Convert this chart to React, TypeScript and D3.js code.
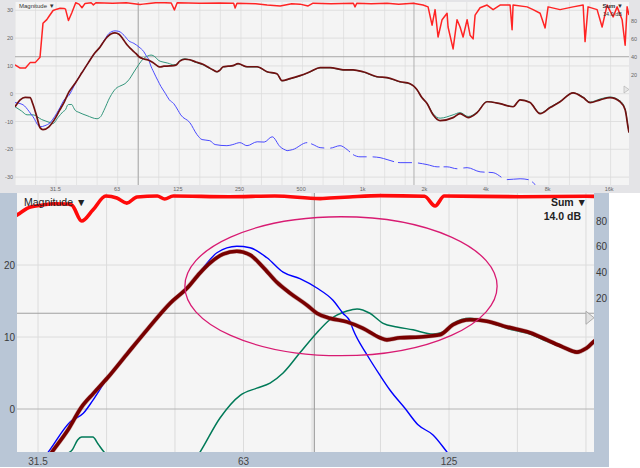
import React from "react";
import * as d3 from "d3";

type Pt = [number, number];

// Sum (maroon) response, dB
const sumCurve: Pt[] = [
  [20, -4.7], [21.2, -2.2], [22.4, -1.3], [23.7, -1.4], [24.4, -3.5], [25.5, -8.0], [26.5, -12.2], [27.4, -12.9],
  [29.3, -11.9], [31.0, -9.6], [33.0, -6.0], [34.8, -3.0], [36.5, 0.3], [38.0, 2.2], [39.8, 4.3], [42.5, 7.6],
  [45.5, 11.0], [49.2, 14.7], [52.1, 16.8], [54.4, 18.9], [56.3, 20.3], [58.8, 21.5], [61.6, 21.9], [64.4, 21.4],
  [67.3, 19.7], [70.5, 17.6], [73.7, 16.1], [78.1, 14.4], [80.7, 13.3], [84.3, 12.6], [89.3, 12.1], [94.3, 11.2],
  [99.8, 9.9], [102.2, 9.6], [106.8, 9.9], [114.3, 10.0], [122.2, 10.3], [127.7, 11.7], [135.3, 12.4], [143.2, 12.2],
  [153.2, 11.4], [165.6, 10.6], [175.3, 9.6], [185.1, 8.6], [194.0, 7.9], [200.7, 8.5], [208, 9.7], [220, 9.9],
  [232, 10.1], [246, 10.8], [272, 9.7], [305, 9.7], [341, 7.9], [381, 7.2], [403, 4.7], [441, 5.4], [494, 6.5],
  [553, 7.9], [619, 9.4], [693, 9.4], [802, 8.6], [897, 8.6], [1004, 7.9], [1175, 6.1], [1315, 5.8], [1522, 4.3],
  [1703, 3.6], [1843, 1.4], [1950, -1.5], [2062, -3.5], [2207, -7.6], [2388, -9.7], [2764, -8.6], [2990, -7.2],
  [3272, -8.6], [3620, -6.8], [4050, -2.9], [4688, -3.6], [5428, -4.7], [5874, -2.2], [6571, -3.2], [7357, -7.2],
  [8231, -5.0], [9210, -2.9], [10660, 0.3], [11940, -1.4], [12910, -3.2], [14450, -2.2], [16170, -1.4],
  [18100, -2.9], [19150, -5.8], [19800, -12.2], [20000, -14.0],
];

// Green (sub / second source) response, dB
const greenCurve: Pt[] = [
  [20, -4.7], [21.5, -6.2], [22.9, -7.6], [24.5, -7.6], [27.0, -9.3], [29.7, -10.4], [30.6, -10.8], [32.5, -8.5],
  [34.3, -6.5], [35.4, -5.6], [36.0, -4.3], [36.5, -3.9], [37.9, -3.9], [38.6, -4.9], [39.4, -6.0], [41.0, -6.7],
  [45.0, -7.9], [50.3, -9.0], [52.5, -8.2], [54.4, -6.0], [58.2, -1.25], [62.3, 1.9], [65.9, 2.9], [68.9, 3.6],
  [72.0, 5.0], [76.2, 7.8], [80.7, 10.6], [84.3, 12.4], [89.3, 13.6], [92.4, 13.9], [96.5, 13.3], [100.9, 11.9],
  [105.7, 11.4], [111.6, 11.0], [119.4, 10.4], [123.5, 10.7], [127.7, 11.9], [135.3, 12.6], [143.2, 12.1],
  [153.2, 11.2], [165.6, 10.4], [175.3, 9.4], [185.1, 8.5], [194.0, 7.8], [200.7, 8.4], [208, 9.6], [220, 9.8],
  [232, 10.0], [246, 10.7], [272, 9.6], [305, 9.6], [341, 7.8], [381, 7.1], [403, 4.6], [441, 5.3], [494, 6.4],
  [553, 7.8], [619, 9.3], [693, 9.3], [802, 8.5], [897, 8.5], [1004, 7.8], [1175, 6.0], [1315, 5.7], [1522, 4.2],
  [1703, 3.5], [1843, 1.3], [1950, -1.6], [2062, -3.5], [2207, -7.2], [2388, -8.8], [2764, -7.6], [2990, -6.8],
  [3272, -8.2], [3620, -6.6], [4050, -2.8], [4688, -3.6], [5428, -4.6], [5874, -2.2], [6571, -3.1], [7357, -7.0],
  [8231, -4.8], [9210, -2.8], [10660, 0.3], [11940, -1.2], [12910, -3.0], [14450, -1.9], [16170, -1.2],
  [18100, -2.6], [19150, -5.5], [19800, -12.0], [20000, -14.0],
];

// Blue (main speaker) response, dB
const blueCurve: Pt[] = [
  [20, -3.2], [21.9, -4.0], [23.5, -6.5], [24.5, -8.3], [26.5, -11.9], [28.0, -11.5], [29.7, -10.4], [31.2, -8.3],
  [32.6, -6.0], [35.1, -1.8], [36.7, -0.6], [37.9, 1.2], [39.8, 4.3], [42.5, 7.6], [45.5, 11.0], [49.2, 14.7],
  [52.1, 16.8], [55.0, 19.6], [57.6, 21.7], [61.6, 22.6], [64.4, 22.4], [68.2, 21.0], [72.0, 19.0], [76.2, 18.1],
  [80.7, 16.8], [85.2, 15.1], [88.1, 13.3], [90.2, 12.2], [91.2, 11.0], [95.6, 7.5], [99.8, 4.7], [103.3, 2.6],
  [108.6, 0.1], [113.5, -2.2], [119.4, -3.6], [125.2, -6.0], [129, -7.6], [143, -10.4], [155, -14.7], [164, -16.5],
  [179, -16.9], [190, -18.3], [217, -18.7], [232, -18.3], [251, -17.6], [272, -18.7], [305, -17.3], [330, -17.4],
  [361, -15.5], [395, -19.1], [427, -20.5], [455, -20.1], [535, -17.6], [572, -18.3], [619, -19.4], [690, -19.6],
  [775, -18.7], [839, -20.1], [897, -21.9], [970, -22.7], [1086, -22.7], [1215, -23.0], [1315, -23.7],
  [1522, -24.8], [1762, -24.8], [2062, -25.5], [2308, -26.3], [2583, -26.3], [2890, -27.0], [3236, -26.6],
  [3745, -28.1], [4336, -28.4], [5074, -30.9], [5874, -30.6], [6426, -30.9], [6956, -32.7], [7200, -34.0],
];

// Red coherence-like trace on the right axis (0..100)
const redCurve: Pt[] = [
  [20, 31.6], [21.2, 28], [22.5, 28], [23.7, 34], [25.1, 34], [26.5, 40], [27.4, 77], [28.6, 81], [29.4, 85],
  [30.7, 91], [32.0, 92.5], [33.2, 93.5], [34.7, 93.3], [35.3, 92.5], [36.5, 80], [37.9, 88.6], [39.6, 99.5],
  [41.1, 98], [42.5, 94], [44.0, 98.8], [47.1, 99.5], [48.3, 97.2], [49.7, 99.5], [60, 99], [70, 99.5],
  [81.6, 97.5], [84.3, 98], [90, 98.8], [100, 99.8], [116, 99.3], [120.2, 91.7], [124, 99.5], [160, 99],
  [200, 99.3], [234, 99], [238, 93.8], [243, 99], [300, 98.5], [341, 97], [395, 96], [450, 98.5], [494, 98],
  [541, 96], [572, 99], [700, 98.5], [900, 99], [917, 95], [935, 99], [1100, 98.5], [1315, 99], [1500, 98],
  [1762, 99], [1971, 97], [2086, 95], [2182, 75], [2257, 92], [2334, 62], [2442, 81], [2583, 88], [2612, 73],
  [2764, 49], [2890, 81], [2990, 73], [3093, 62], [3236, 81], [3346, 64], [3462, 60], [3540, 86], [3745, 94],
  [4050, 97], [4336, 92], [4688, 97], [5248, 97], [5368, 70], [5428, 97], [6356, 95], [6798, 92], [7357, 88],
  [7782, 72], [8050, 95], [9210, 92], [10660, 95], [11940, 97], [12200, 57], [12620, 95], [13970, 92],
  [14780, 73], [15630, 97], [16730, 84], [17500, 95], [18510, 81], [19150, 53], [19580, 95], [20000, 86],
];

const topXTicks = [31.5, 63, 125, 250, 500, 1000, 2000, 4000, 8000, 16000];
const topXLabels = ["31.5", "63", "125", "250", "500", "1k", "2k", "4k", "8k", "16k"];
const topYTicks = [30, 20, 10, 0, -10, -20, -30];
const rightTicks = [80, 60, 40, 20];
const botXTicks = [31.5, 63, 126];
const botXLabels = ["31.5", "63", "125"];
const botYTicks = [20, 10, 0];
const botGridFreqs = [31.5, 39.7, 50, 63, 79.4, 100, 126, 158.7, 200];
const cursorFreq = 80;
const cursorDb = 13.3;
const markerFreq = 1780;
const sumLabel = "14.0 dB";
const ellipseFreqs = [51.7, 148.2];
const ellipseDbs = [7.4, 26.7];

const FONT = "'Liberation Sans', Arial, Helvetica, sans-serif";

export default function App() {
  // top (overview) panel
  const T = { l: 15, r: 629, t: 2, b: 185, sb: 193 };
  const xT = d3.scaleLog().domain([20, 20000]).range([T.l, T.r]);
  const yT = d3.scaleLinear().domain([30, -30]).range([10.3, 177.1]);
  const yTR = d3.scaleLinear().domain([0, 100]).range([93.7, 2.3]);
  // bottom (zoomed) panel
  const B = { l: 17, r: 594, t: 193, b: 452, sr: 609, sb: 467 };
  const xB = d3.scaleLog().domain([31.5, 126]).range([38, 449]);
  const yB = d3.scaleLinear().domain([0, 20]).range([409, 265]);
  const yBR = d3.scaleLinear().domain([0, 100]).range([323.7, 195.4]);

  const lT = d3.line<Pt>().x(d => xT(d[0])).y(d => yT(d[1])).curve(d3.curveMonotoneX);
  const lTR = d3.line<Pt>().x(d => xT(d[0])).y(d => yTR(d[1]));
  const lB = d3.line<Pt>().x(d => xB(d[0])).y(d => yB(d[1])).curve(d3.curveMonotoneX);
  const lBR = d3.line<Pt>().x(d => xB(d[0])).y(d => yBR(d[1])).curve(d3.curveMonotoneX);

  const topGrid = d3.range(0, 31).map(k => 20 * Math.pow(2, k / 3));
  const lowB = (c: Pt[]) => c.filter(d => d[0] < 260);

  const ecx = (xB(ellipseFreqs[0]) + xB(ellipseFreqs[1])) / 2;
  const erx = (xB(ellipseFreqs[1]) - xB(ellipseFreqs[0])) / 2;
  const ecy = (yB(ellipseDbs[0]) + yB(ellipseDbs[1])) / 2;
  const ery = (yB(ellipseDbs[0]) - yB(ellipseDbs[1])) / 2;

  const cyB = yB(cursorDb);

  return (
    <svg width={640} height={468} style={{ position: "absolute", left: 0, top: 0, fontFamily: FONT }}>
      <defs>
        <clipPath id="clipT"><rect x={T.l} y={T.t} width={T.r - T.l} height={T.b - T.t} /></clipPath>
        <clipPath id="clipB"><rect x={B.l} y={B.t} width={B.r - B.l} height={B.b - B.t} /></clipPath>
      </defs>
      <rect x={0} y={0} width={640} height={468} fill="#ffffff" />

      {/* ===== TOP PANEL ===== */}
      <rect x={0} y={0} width={640} height={T.sb} fill="#e4e4e7" />
      <rect x={T.l} y={T.t} width={T.r - T.l} height={T.b - T.t} fill="#f4f4f4" />
      <g clipPath="url(#clipT)">
        {topGrid.map((f, i) => (
          <line key={"tg" + i} x1={xT(f)} x2={xT(f)} y1={T.t} y2={T.b} stroke="#dedede" strokeWidth={0.8} />
        ))}
        {topYTicks.map(v => (
          <line key={"th" + v} x1={T.l} x2={T.r} y1={yT(v)} y2={yT(v)} stroke="#dadada" strokeWidth={0.8} />
        ))}
        <line x1={xT(cursorFreq)} x2={xT(cursorFreq)} y1={T.t} y2={T.b} stroke="#a8a8a8" strokeWidth={1} />
        <line x1={xT(markerFreq)} x2={xT(markerFreq)} y1={T.t} y2={T.b} stroke="#b0b0b0" strokeWidth={1} />
        <line x1={T.l} x2={T.r} y1={yT(cursorDb)} y2={yT(cursorDb)} stroke="#a8a8a8" strokeWidth={1} />
        <path d={lTR(redCurve) || ""} fill="none" stroke="#ff2424" strokeWidth={1.5} strokeLinejoin="round" />
        <path d={lT(greenCurve) || ""} fill="none" stroke="#33967c" strokeWidth={1} />
        <path d={lT(blueCurve.filter(d => d[0] <= 430)) || ""} fill="none" stroke="#4a4aff" strokeWidth={1} />
        <path d={lT(blueCurve.filter(d => d[0] >= 427)) || ""} fill="none" stroke="#4a4aff" strokeWidth={1}
          strokeDasharray="22,4,14,6" />
        <path d={lT(sumCurve) || ""} fill="none" stroke="#701010" strokeWidth={1.7} />
      </g>
      {topYTicks.map(v => (
        <text key={"tyl" + v} x={13} y={yT(v) + 2} fontSize={5.5} fill="#666" textAnchor="end">{v}</text>
      ))}
      {rightTicks.map(v => (
        <text key={"tyr" + v} x={634} y={yTR(v) + 2} fontSize={5.5} fill="#666" textAnchor="middle">{v}</text>
      ))}
      {topXTicks.map((f, i) => (
        <text key={"txl" + i} x={xT(f)} y={191} fontSize={5.5} fill="#666" textAnchor="middle">{topXLabels[i]}</text>
      ))}
      <text x={19} y={8} fontSize={6} fill="#333">Magnitude ▼</text>
      <text x={623} y={8} fontSize={6} fill="#333" textAnchor="end" fontWeight="bold">Sum ▼</text>
      <text x={622} y={16} fontSize={5.5} fill="#333" textAnchor="end">{sumLabel}</text>
      <path d={`M${T.r - 5},86 L${T.r - 5},93 L${T.r},89.5 Z`} fill="#e6e6e6" stroke="#b5b5b5" strokeWidth={0.7} />

      {/* ===== BOTTOM PANEL ===== */}
      <rect x={0} y={B.t} width={B.sr} height={B.sb - B.t} fill="#b9c6d6" />
      <rect x={B.l} y={B.t} width={B.r - B.l} height={B.b - B.t} fill="#f5f5f5" />
      <g clipPath="url(#clipB)">
        {botGridFreqs.map((f, i) => (
          <line key={"bg" + i} x1={xB(f)} x2={xB(f)} y1={B.t} y2={B.b} stroke="#dcdcdc" strokeWidth={1} />
        ))}
        {[20, 10].map(v => (
          <line key={"bh" + v} x1={B.l} x2={B.r} y1={yB(v)} y2={yB(v)} stroke="#dcdcdc" strokeWidth={1} />
        ))}
        <line x1={B.l} x2={B.r} y1={yB(0)} y2={yB(0)} stroke="#b4b4b4" strokeWidth={1} />
        <line x1={xB(cursorFreq)} x2={xB(cursorFreq)} y1={B.t} y2={B.b} stroke="#a0a0a0" strokeWidth={1.2} />
        <line x1={B.l} x2={B.r} y1={cyB} y2={cyB} stroke="#a0a0a0" strokeWidth={1.2} />
        <path d={lBR(lowB(redCurve)) || ""} fill="none" stroke="#ff0a0a" strokeWidth={3.6} strokeLinejoin="round" />
        <path d={lB(lowB(greenCurve)) || ""} fill="none" stroke="#007a58" strokeWidth={1.5} />
        <path d={lB(lowB(blueCurve)) || ""} fill="none" stroke="#0000ff" strokeWidth={1.4} />
        <path d={lB(lowB(sumCurve)) || ""} fill="none" stroke="#a35a5a" strokeWidth={4.6} opacity={0.5} />
        <path d={lB(lowB(sumCurve)) || ""} fill="none" stroke="#780000" strokeWidth={3.6} />
        <ellipse cx={ecx} cy={ecy} rx={erx} ry={ery} fill="none" stroke="#d81b72" strokeWidth={1.3} />
        <path d={`M${B.r - 8},${cyB - 2} L${B.r - 8},${cyB + 11} L${B.r},${cyB + 4.5} Z`}
          fill="#e2e2e2" stroke="#adadad" strokeWidth={1} />
      </g>
      {botYTicks.map(v => (
        <text key={"byl" + v} x={15} y={yB(v) + 3.5} fontSize={10} fill="#3a3a3a" textAnchor="end">{v}</text>
      ))}
      {rightTicks.map(v => (
        <text key={"byr" + v} x={601.5} y={yBR(v) + 3.5} fontSize={10} fill="#3a3a3a" textAnchor="middle">{v}</text>
      ))}
      {botXTicks.map((f, i) => (
        <text key={"bxl" + i} x={xB(f)} y={464.5} fontSize={10} fill="#444" textAnchor="middle">{botXLabels[i]}</text>
      ))}
      <text x={24} y={205.5} fontSize={10.5} fill="#222">Magnitude ▼</text>
      <text x={587} y={205.5} fontSize={10.5} fill="#222" textAnchor="end" fontWeight="bold">Sum ▼</text>
      <text x={581} y={219.5} fontSize={10.5} fill="#222" textAnchor="end" fontWeight="bold">{sumLabel}</text>
    </svg>
  );
}
